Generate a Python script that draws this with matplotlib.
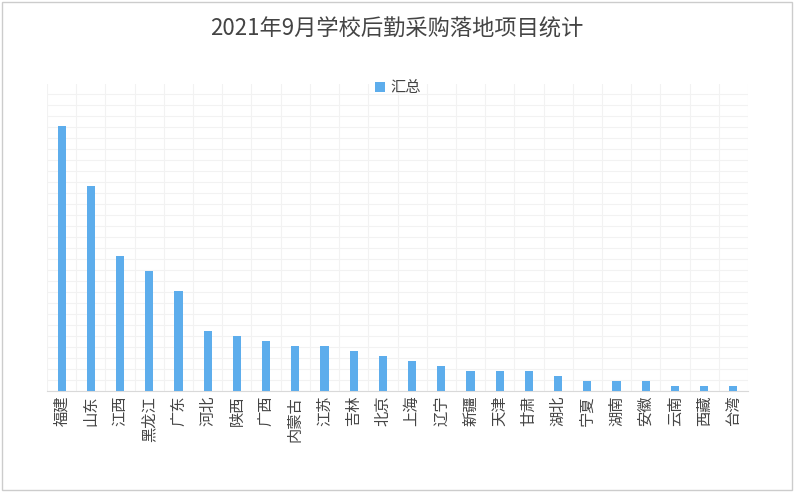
import matplotlib
matplotlib.use("Agg")
import matplotlib.pyplot as plt
import numpy as np

plt.rcParams['font.family'] = 'sans-serif'
plt.rcParams['font.sans-serif'] = ['Noto Sans CJK SC', 'Noto Sans CJK JP', 'DejaVu Sans']
categories = ["福建","山东","江西","黑龙江","广东","河北","陕西","广西","内蒙古","江苏","吉林","北京",
              "上海","辽宁","新疆","天津","甘肃","湖北","宁夏","湖南","安徽","云南","西藏","台湾"]
values = [53,41,27,24,20,12,11,10,9,9,8,7,6,5,4,4,4,3,2,2,2,1,1,1]

fig = plt.figure(figsize=(7.94,4.92), dpi=100)
fig.patches.append(plt.Rectangle((0.002,0.004),0.996,0.992,transform=fig.transFigure,
                                 fill=False,edgecolor='#cccccc',lw=1))
ax = fig.add_axes([47/794, 1-391/492, 701/794, 307/492])
x = np.arange(len(categories))
ax.bar(x, values, width=0.28, color='#5DADEC', label='汇总', zorder=3)
ax.set_xlim(-0.5, len(categories)-0.5)
ax.set_ylim(0, 61.4)
ax.set_xticks(x)
ax.set_xticklabels(categories, rotation=90, fontsize=11, color='#444444')
ax.set_yticks([])
ax.set_xticks(np.arange(-0.5, len(categories), 0.5), minor=True)
ax.set_yticks(np.arange(0, 61.4, 2.2), minor=True)
ax.grid(which='minor', color='#f2f2f2', lw=0.8, zorder=0)
ax.tick_params(axis='x', which='both', length=0)
ax.tick_params(axis='y', which='both', length=0)
for s in ['top','right','left']:
    ax.spines[s].set_visible(False)
ax.spines['bottom'].set_color('#d9d9d9')
fig.suptitle('2021年9月学校后勤采购落地项目统计', y=0.965, fontsize=16, color='#444444')
ax.legend(loc='upper center', bbox_to_anchor=(0.5, 1.06), frameon=False, fontsize=11,
          handlelength=0.7, handleheight=0.7, handletextpad=0.3, labelcolor='#444444')
fig.savefig('out.png', dpi=100)
